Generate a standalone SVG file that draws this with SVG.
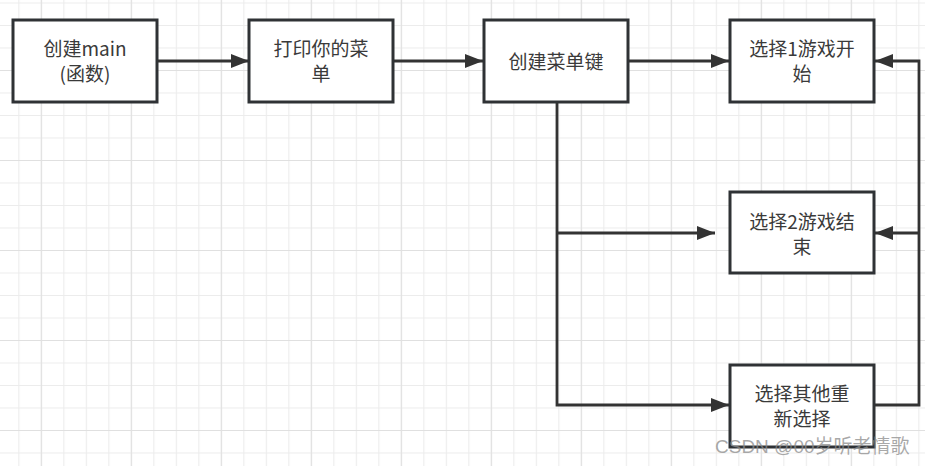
<svg xmlns="http://www.w3.org/2000/svg" width="925" height="466" viewBox="0 0 925 466">
<defs>
<pattern id="minor" x="-4.2" y="2.5" width="22.5" height="22.5" patternUnits="userSpaceOnUse">
<path d="M0.5 0V22.5M0 0.5H22.5" stroke="#ececec" stroke-width="1.2" fill="none"/>
</pattern>
<pattern id="major" x="40.8" y="70" width="90" height="90" patternUnits="userSpaceOnUse">
<path d="M0.5 0V90M0 0.5H90" stroke="#e0e0e0" stroke-width="1.2" fill="none"/>
</pattern>
<marker id="arr" viewBox="0 0 18 14" refX="18" refY="7" markerWidth="18" markerHeight="14" markerUnits="userSpaceOnUse" orient="auto">
<path d="M0 0L18 7L0 14Z" fill="#333"/>
</marker>
</defs>
<style>
.box{fill:#fff;stroke:#2f3235;stroke-width:3}
.t{font-family:"Noto Sans CJK SC","Liberation Sans",sans-serif;font-size:19px;fill:#3a3a3a;text-anchor:middle}
.c{fill:none;stroke:#333;stroke-width:2.8}
.wm{font-family:"Liberation Sans","Noto Sans CJK SC",sans-serif;font-size:19px;fill:#8c8c8c;fill-opacity:0.75}
</style>
<rect width="925" height="466" fill="#fff"/>
<rect width="925" height="466" fill="url(#minor)"/>
<rect width="925" height="466" fill="url(#major)"/>
<g id="connectors">
<path class="c" d="M158 61H249" marker-end="url(#arr)"/>
<path class="c" d="M394 61H483" marker-end="url(#arr)"/>
<path class="c" d="M629 61H729" marker-end="url(#arr)"/>
<path class="c" d="M557 102V405H729" marker-end="url(#arr)"/>
<path class="c" d="M557 233H715" marker-end="url(#arr)"/>
<path class="c" d="M875 405H919V61H875" marker-end="url(#arr)"/>
<path class="c" d="M919 233H875" marker-end="url(#arr)"/>
</g>
<g id="n1"><rect class="box" x="13" y="20" width="144" height="82"/><text class="t" x="85" y="56">创建main</text><text class="t" x="85" y="81">(函数)</text></g>
<g id="n2"><rect class="box" x="249" y="20" width="144" height="82"/><text class="t" x="321" y="56">打印你的菜</text><text class="t" x="321" y="81">单</text></g>
<g id="n3"><rect class="box" x="484" y="20" width="144" height="82"/><text class="t" x="556" y="69">创建菜单键</text></g>
<g id="n4"><rect class="box" x="730" y="20" width="144" height="82"/><text class="t" x="802" y="56">选择1游戏开</text><text class="t" x="802" y="81">始</text></g>
<g id="n5"><rect class="box" x="730" y="192" width="144" height="81"/><text class="t" x="802" y="229">选择2游戏结</text><text class="t" x="802" y="254">束</text></g>
<g id="n6"><rect class="box" x="730" y="365" width="144" height="82"/><text class="t" x="802" y="401">选择其他重</text><text class="t" x="802" y="426">新选择</text></g>
<text class="wm" x="715" y="453">CSDN @00岁听老情歌</text>
</svg>
